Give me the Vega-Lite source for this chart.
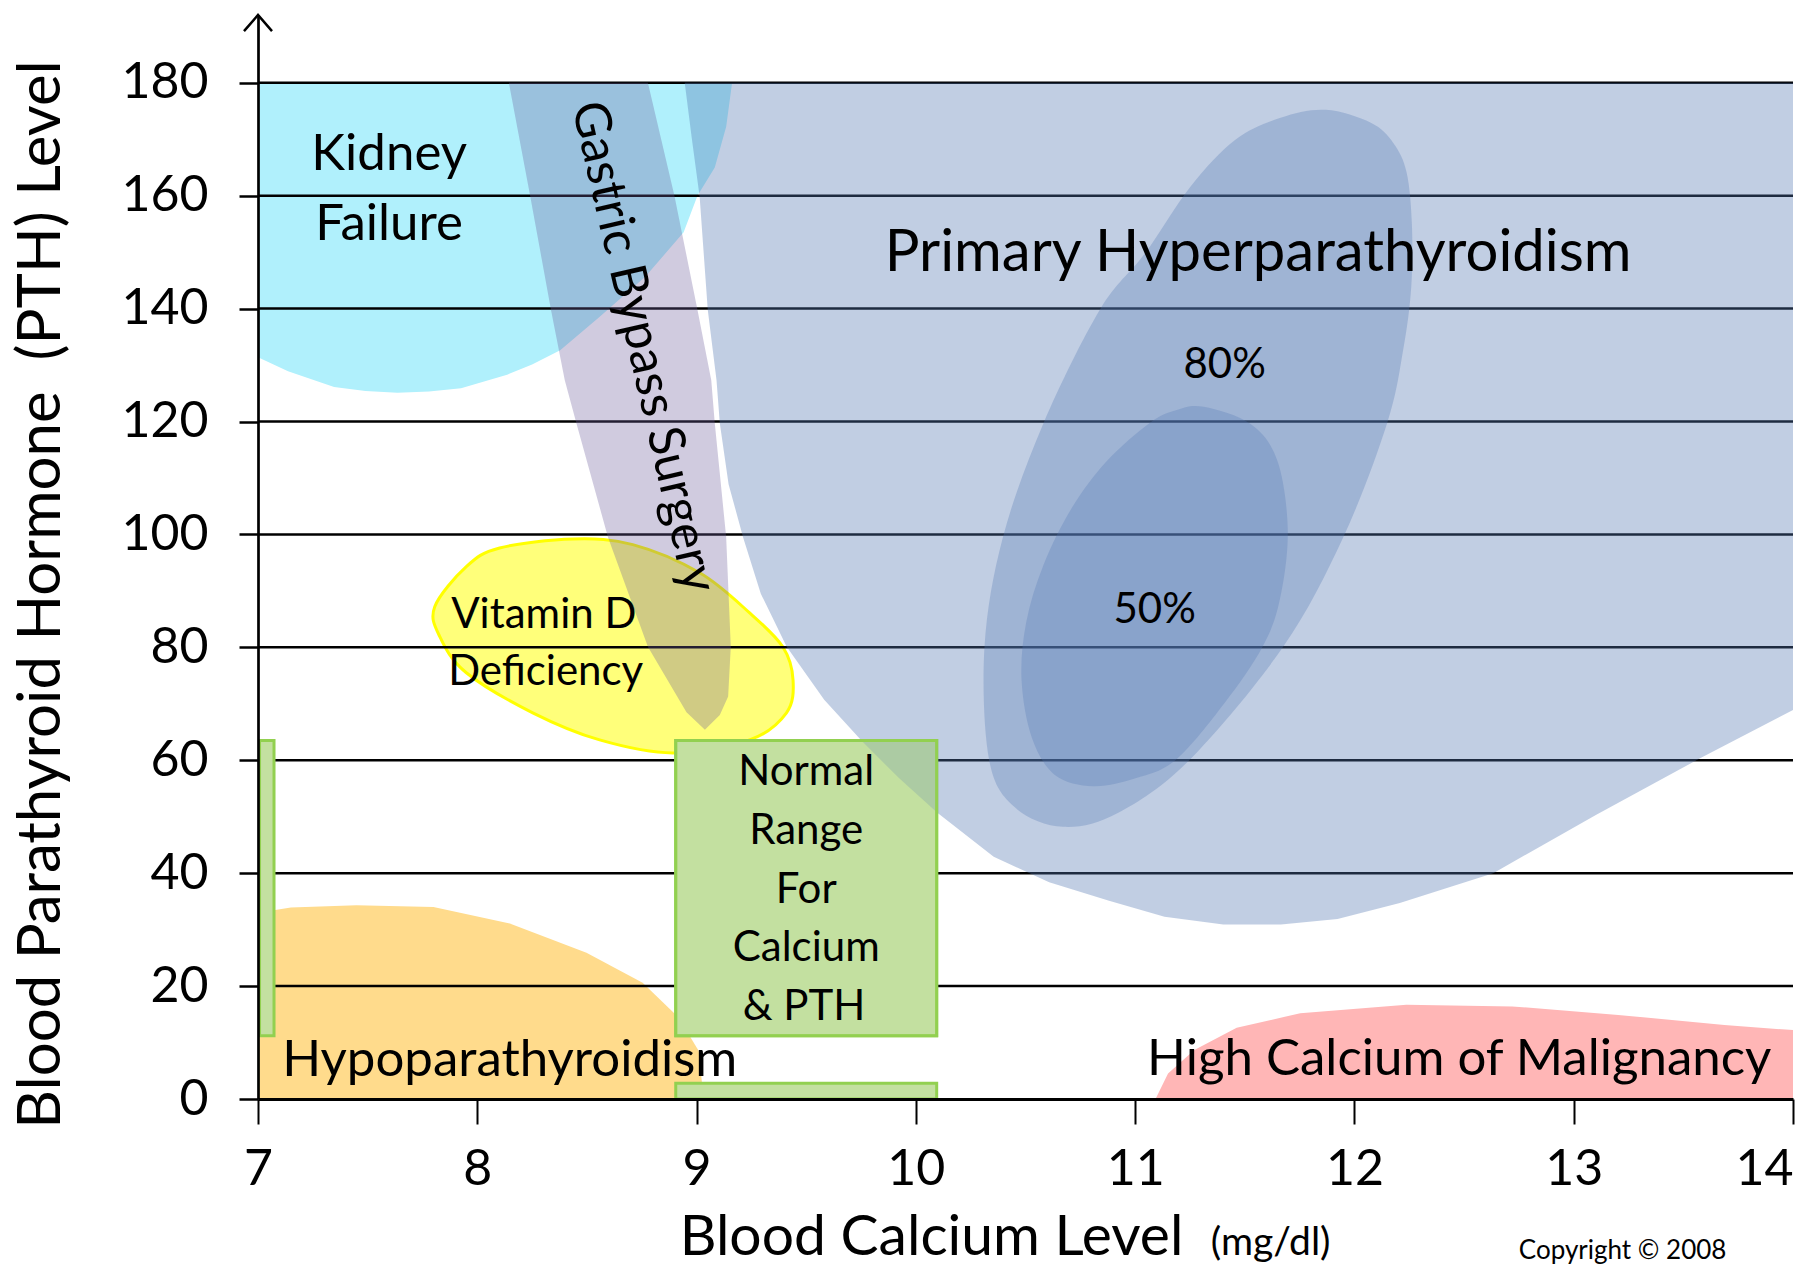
{
  "$schema": "https://vega.github.io/schema/vega-lite/v6.json",
  "width": 1535,
  "height": 1084,
  "autosize": {"type": "none"},
  "padding": {"left": 258, "top": 15, "right": 15, "bottom": 168},
  "background": "white",
  "config": {"view": {"stroke": null}, "font": "Lato"},
  "datasets": {
    "poly": [
      {"r": "kidney", "o": 1, "ca": 7.0, "pth": 180},
      {"r": "kidney", "o": 2, "ca": 9.162, "pth": 180},
      {"r": "kidney", "o": 3, "ca": 9.135, "pth": 172.2},
      {"r": "kidney", "o": 4, "ca": 9.083, "pth": 165.0},
      {"r": "kidney", "o": 5, "ca": 9.004, "pth": 160.0},
      {"r": "kidney", "o": 6, "ca": 8.941, "pth": 153.5},
      {"r": "kidney", "o": 7, "ca": 8.767, "pth": 145.7},
      {"r": "kidney", "o": 8, "ca": 8.557, "pth": 138.5},
      {"r": "kidney", "o": 9, "ca": 8.378, "pth": 132.6},
      {"r": "kidney", "o": 10, "ca": 8.25, "pth": 130.1},
      {"r": "kidney", "o": 11, "ca": 8.136, "pth": 128.3},
      {"r": "kidney", "o": 12, "ca": 7.926, "pth": 125.9},
      {"r": "kidney", "o": 13, "ca": 7.78, "pth": 125.3},
      {"r": "kidney", "o": 14, "ca": 7.636, "pth": 125.1},
      {"r": "kidney", "o": 15, "ca": 7.49, "pth": 125.4},
      {"r": "kidney", "o": 16, "ca": 7.347, "pth": 126.1},
      {"r": "kidney", "o": 17, "ca": 7.137, "pth": 128.9},
      {"r": "kidney", "o": 18, "ca": 7.0, "pth": 131.4},

      {"r": "hypo", "o": 1, "ca": 7.0, "pth": 0},
      {"r": "hypo", "o": 2, "ca": 7.0, "pth": 33.0},
      {"r": "hypo", "o": 3, "ca": 7.15, "pth": 33.9},
      {"r": "hypo", "o": 4, "ca": 7.449, "pth": 34.3},
      {"r": "hypo", "o": 5, "ca": 7.8, "pth": 34.0},
      {"r": "hypo", "o": 6, "ca": 8.148, "pth": 31.1},
      {"r": "hypo", "o": 7, "ca": 8.498, "pth": 25.9},
      {"r": "hypo", "o": 8, "ca": 8.754, "pth": 20.6},
      {"r": "hypo", "o": 9, "ca": 8.917, "pth": 14.5},
      {"r": "hypo", "o": 10, "ca": 9.01, "pth": 8.5},
      {"r": "hypo", "o": 11, "ca": 9.032, "pth": 0},

      {"r": "mal", "o": 1, "ca": 11.093, "pth": 0},
      {"r": "mal", "o": 2, "ca": 11.15, "pth": 4.5},
      {"r": "mal", "o": 3, "ca": 11.27, "pth": 8.7},
      {"r": "mal", "o": 4, "ca": 11.463, "pth": 12.6},
      {"r": "mal", "o": 5, "ca": 11.753, "pth": 15.2},
      {"r": "mal", "o": 6, "ca": 12.237, "pth": 16.7},
      {"r": "mal", "o": 7, "ca": 12.72, "pth": 16.4},
      {"r": "mal", "o": 8, "ca": 13.203, "pth": 14.9},
      {"r": "mal", "o": 9, "ca": 13.687, "pth": 13.1},
      {"r": "mal", "o": 10, "ca": 14.0, "pth": 12.2},
      {"r": "mal", "o": 11, "ca": 14.0, "pth": 0},

      {"r": "vitd", "o": 1, "ca": 7.806, "pth": 87.2},
      {"r": "vitd", "o": 2, "ca": 7.95, "pth": 94.3},
      {"r": "vitd", "o": 3, "ca": 8.102, "pth": 97.6},
      {"r": "vitd", "o": 4, "ca": 8.437, "pth": 99.2},
      {"r": "vitd", "o": 5, "ca": 8.709, "pth": 98.2},
      {"r": "vitd", "o": 6, "ca": 9.014, "pth": 93.2},
      {"r": "vitd", "o": 7, "ca": 9.242, "pth": 86.1},
      {"r": "vitd", "o": 8, "ca": 9.393, "pth": 80.1},
      {"r": "vitd", "o": 9, "ca": 9.44, "pth": 74.2},
      {"r": "vitd", "o": 10, "ca": 9.41, "pth": 68.4},
      {"r": "vitd", "o": 11, "ca": 9.242, "pth": 63.6},
      {"r": "vitd", "o": 12, "ca": 8.891, "pth": 61.3},
      {"r": "vitd", "o": 13, "ca": 8.558, "pth": 63.6},
      {"r": "vitd", "o": 14, "ca": 8.253, "pth": 68.4},
      {"r": "vitd", "o": 15, "ca": 7.95, "pth": 75.5},
      {"r": "vitd", "o": 16, "ca": 7.829, "pth": 81.9},

      {"r": "prim", "o": 1, "ca": 8.946, "pth": 180},
      {"r": "prim", "o": 2, "ca": 8.978, "pth": 170.2},
      {"r": "prim", "o": 3, "ca": 9.014, "pth": 159.8},
      {"r": "prim", "o": 4, "ca": 9.051, "pth": 139.8},
      {"r": "prim", "o": 5, "ca": 9.091, "pth": 127.3},
      {"r": "prim", "o": 6, "ca": 9.106, "pth": 119.7},
      {"r": "prim", "o": 7, "ca": 9.146, "pth": 108.9},
      {"r": "prim", "o": 8, "ca": 9.212, "pth": 99.5},
      {"r": "prim", "o": 9, "ca": 9.293, "pth": 89.5},
      {"r": "prim", "o": 10, "ca": 9.411, "pth": 80.1},
      {"r": "prim", "o": 11, "ca": 9.582, "pth": 70.7},
      {"r": "prim", "o": 12, "ca": 9.756, "pth": 63.3},
      {"r": "prim", "o": 13, "ca": 9.924, "pth": 56.8},
      {"r": "prim", "o": 14, "ca": 10.098, "pth": 50.7},
      {"r": "prim", "o": 15, "ca": 10.355, "pth": 42.9},
      {"r": "prim", "o": 16, "ca": 10.608, "pth": 38.4},
      {"r": "prim", "o": 17, "ca": 10.881, "pth": 35.1},
      {"r": "prim", "o": 18, "ca": 11.134, "pth": 32.3},
      {"r": "prim", "o": 19, "ca": 11.402, "pth": 30.9},
      {"r": "prim", "o": 20, "ca": 11.665, "pth": 30.9},
      {"r": "prim", "o": 21, "ca": 11.923, "pth": 31.9},
      {"r": "prim", "o": 22, "ca": 12.207, "pth": 34.7},
      {"r": "prim", "o": 23, "ca": 12.633, "pth": 40.0},
      {"r": "prim", "o": 24, "ca": 13.101, "pth": 50.3},
      {"r": "prim", "o": 25, "ca": 13.574, "pth": 60.3},
      {"r": "prim", "o": 26, "ca": 14.0, "pth": 68.9},
      {"r": "prim", "o": 27, "ca": 14.0, "pth": 180},

      {"r": "p80", "o": 1, "ca": 11.869, "pth": 175.2},
      {"r": "p80", "o": 2, "ca": 12.075, "pth": 172.9},
      {"r": "p80", "o": 3, "ca": 12.178, "pth": 169.3},
      {"r": "p80", "o": 4, "ca": 12.238, "pth": 164.1},
      {"r": "p80", "o": 5, "ca": 12.262, "pth": 155.0},
      {"r": "p80", "o": 6, "ca": 12.259, "pth": 143.8},
      {"r": "p80", "o": 7, "ca": 12.222, "pth": 132.6},
      {"r": "p80", "o": 8, "ca": 12.149, "pth": 119.7},
      {"r": "p80", "o": 9, "ca": 11.949, "pth": 99.5},
      {"r": "p80", "o": 10, "ca": 11.675, "pth": 80.1},
      {"r": "p80", "o": 11, "ca": 11.249, "pth": 60.1},
      {"r": "p80", "o": 12, "ca": 10.923, "pth": 50.7},
      {"r": "p80", "o": 13, "ca": 10.671, "pth": 48.2},
      {"r": "p80", "o": 14, "ca": 10.45, "pth": 51.7},
      {"r": "p80", "o": 15, "ca": 10.334, "pth": 60.1},
      {"r": "p80", "o": 16, "ca": 10.313, "pth": 80.1},
      {"r": "p80", "o": 17, "ca": 10.397, "pth": 99.5},
      {"r": "p80", "o": 18, "ca": 10.582, "pth": 119.7},
      {"r": "p80", "o": 19, "ca": 10.839, "pth": 139.8},
      {"r": "p80", "o": 20, "ca": 11.045, "pth": 149.8},
      {"r": "p80", "o": 21, "ca": 11.252, "pth": 161.6},
      {"r": "p80", "o": 22, "ca": 11.457, "pth": 169.9},
      {"r": "p80", "o": 23, "ca": 11.663, "pth": 173.8},

      {"r": "p50", "o": 1, "ca": 11.313, "pth": 122.6},
      {"r": "p50", "o": 2, "ca": 11.528, "pth": 119.5},
      {"r": "p50", "o": 3, "ca": 11.649, "pth": 113.0},
      {"r": "p50", "o": 4, "ca": 11.696, "pth": 100.7},
      {"r": "p50", "o": 5, "ca": 11.66, "pth": 88.5},
      {"r": "p50", "o": 6, "ca": 11.581, "pth": 80.1},
      {"r": "p50", "o": 7, "ca": 11.407, "pth": 70.1},
      {"r": "p50", "o": 8, "ca": 11.186, "pth": 60.1},
      {"r": "p50", "o": 9, "ca": 11.002, "pth": 56.8},
      {"r": "p50", "o": 10, "ca": 10.808, "pth": 55.4},
      {"r": "p50", "o": 11, "ca": 10.634, "pth": 57.4},
      {"r": "p50", "o": 12, "ca": 10.529, "pth": 64.0},
      {"r": "p50", "o": 13, "ca": 10.482, "pth": 74.2},
      {"r": "p50", "o": 14, "ca": 10.503, "pth": 84.4},
      {"r": "p50", "o": 15, "ca": 10.582, "pth": 94.6},
      {"r": "p50", "o": 16, "ca": 10.713, "pth": 104.8},
      {"r": "p50", "o": 17, "ca": 10.871, "pth": 113.0},
      {"r": "p50", "o": 18, "ca": 11.065, "pth": 119.7},
      {"r": "p50", "o": 19, "ca": 11.186, "pth": 122.0},

      {"r": "gastric", "o": 1, "ca": 8.144, "pth": 180},
      {"r": "gastric", "o": 2, "ca": 8.241, "pth": 160.0},
      {"r": "gastric", "o": 3, "ca": 8.336, "pth": 139.8},
      {"r": "gastric", "o": 4, "ca": 8.399, "pth": 127.3},
      {"r": "gastric", "o": 5, "ca": 8.452, "pth": 119.7},
      {"r": "gastric", "o": 6, "ca": 8.596, "pth": 99.5},
      {"r": "gastric", "o": 7, "ca": 8.778, "pth": 80.1},
      {"r": "gastric", "o": 8, "ca": 8.954, "pth": 68.5},
      {"r": "gastric", "o": 9, "ca": 9.038, "pth": 65.4},
      {"r": "gastric", "o": 10, "ca": 9.106, "pth": 68.0},
      {"r": "gastric", "o": 11, "ca": 9.144, "pth": 71.3},
      {"r": "gastric", "o": 12, "ca": 9.156, "pth": 80.1},
      {"r": "gastric", "o": 13, "ca": 9.135, "pth": 99.5},
      {"r": "gastric", "o": 14, "ca": 9.083, "pth": 119.7},
      {"r": "gastric", "o": 15, "ca": 9.067, "pth": 127.3},
      {"r": "gastric", "o": 16, "ca": 9.004, "pth": 139.8},
      {"r": "gastric", "o": 17, "ca": 8.899, "pth": 160.0},
      {"r": "gastric", "o": 18, "ca": 8.778, "pth": 180}
    ],
    "grid": [
      {"ca": 7, "ca2": 14, "pth": 20},
      {"ca": 7, "ca2": 14, "pth": 40},
      {"ca": 7, "ca2": 14, "pth": 60},
      {"ca": 7, "ca2": 14, "pth": 80},
      {"ca": 7, "ca2": 14, "pth": 100},
      {"ca": 7, "ca2": 14, "pth": 120},
      {"ca": 7, "ca2": 14, "pth": 140},
      {"ca": 7, "ca2": 14, "pth": 160},
      {"ca": 7, "ca2": 14, "pth": 180}
    ],
    "rects": [
      {"name": "normal", "ca": 8.905, "ca2": 10.095, "pth": 11.2, "pth2": 63.5},
      {"name": "bar", "ca": 7.007, "ca2": 7.073, "pth": 11.2, "pth2": 63.5},
      {"name": "base", "ca": 8.905, "ca2": 10.095, "pth": 0, "pth2": 2.8}
    ],
    "labels": [
      {"kind": "big", "label": "Primary Hyperparathyroidism", "ca": 11.561, "pth": 146.6},
      {"kind": "main", "label": "Kidney", "ca": 7.598, "pth": 164.6},
      {"kind": "main", "label": "Failure", "ca": 7.598, "pth": 152.2},
      {"kind": "main", "label": "Hypoparathyroidism", "ca": 8.148, "pth": 4.0},
      {"kind": "main", "label": "High Calcium of Malignancy", "ca": 12.478, "pth": 4.25},
      {"kind": "mid", "label": "80%", "ca": 11.408, "pth": 127.7},
      {"kind": "mid", "label": "50%", "ca": 11.089, "pth": 84.3},
      {"kind": "mid", "label": "Vitamin D", "ca": 8.303, "pth": 83.5},
      {"kind": "mid", "label": "Deficiency", "ca": 8.312, "pth": 73.4},
      {"kind": "mid", "label": "Normal", "ca": 9.5, "pth": 55.6},
      {"kind": "mid", "label": "Range", "ca": 9.5, "pth": 45.2},
      {"kind": "mid", "label": "For", "ca": 9.5, "pth": 34.8},
      {"kind": "mid", "label": "Calcium", "ca": 9.5, "pth": 24.4},
      {"kind": "mid", "label": "& PTH", "ca": 9.49, "pth": 14.0},
      {"kind": "rot", "label": "Gastric Bypass Surgery", "ca": 8.755, "pth": 133.2},
      {"kind": "unit", "label": "(mg/dl)", "ca": 11.618, "pth": -27.6},
      {"kind": "copy", "label": "Copyright © 2008", "ca": 13.223, "pth": -28.3}
    ],
    "arrow": [{"ca": 7, "pth": 192}]
  },
  "encoding": {
    "x": {
      "field": "ca",
      "type": "quantitative",
      "scale": {"domain": [7, 14], "nice": false, "zero": false},
      "axis": {
        "values": [7, 8, 9, 10, 11, 12, 13, 14],
        "title": "Blood Calcium Level",
        "grid": false,
        "zindex": 1,
        "domainColor": "black",
        "domainWidth": 3,
        "tickColor": "black",
        "tickWidth": 2,
        "tickSize": 25,
        "labelFont": "Lato",
        "labelFontSize": 50,
        "labelColor": "black",
        "labelPadding": 20,
        "labelDx": -6,
        "labelAlign": {"condition": {"test": "datum.value === 14", "value": "right"}, "value": "center"},
        "labelFlush": false,
        "labelOverlap": false,
        "titleFont": "Lato",
        "titleFontSize": 57,
        "titleFontWeight": "normal",
        "titleColor": "black",
        "titleX": 673,
        "titleY": 155,
        "titleAlign": "center",
        "titleBaseline": "alphabetic"
      }
    },
    "y": {
      "field": "pth",
      "type": "quantitative",
      "scale": {"domain": [0, 192], "nice": false},
      "axis": {
        "values": [0, 20, 40, 60, 80, 100, 120, 140, 160, 180],
        "title": "Blood Parathyroid Hormone \u00a0(PTH) Level",
        "grid": false,
        "zindex": 1,
        "domainColor": "black",
        "domainWidth": 2.7,
        "tickColor": "black",
        "tickWidth": 2.5,
        "tickSize": 19,
        "labelFont": "Lato",
        "labelFontSize": 50,
        "labelColor": "black",
        "labelPadding": 31,
        "labelFlush": false,
        "labelOverlap": false,
        "titleFont": "Lato",
        "titleFontSize": 60,
        "titleFontWeight": "normal",
        "titleColor": "black",
        "titleAngle": 270,
        "titleX": -199,
        "titleY": 579,
        "titleAlign": "center",
        "titleBaseline": "alphabetic"
      }
    }
  },
  "layer": [
    {
      "data": {"name": "poly"},
      "transform": [{"filter": "datum.r === 'kidney'"}],
      "mark": {"type": "line", "interpolate": "linear-closed", "fill": "#B0F0FC", "strokeWidth": 0},
      "encoding": {"order": {"field": "o", "type": "quantitative"}}
    },
    {
      "data": {"name": "poly"},
      "transform": [{"filter": "datum.r === 'hypo'"}],
      "mark": {"type": "line", "interpolate": "linear-closed", "fill": "#FFDB8C", "strokeWidth": 0},
      "encoding": {"order": {"field": "o", "type": "quantitative"}}
    },
    {
      "data": {"name": "poly"},
      "transform": [{"filter": "datum.r === 'mal'"}],
      "mark": {"type": "line", "interpolate": "linear-closed", "fill": "#FFB6B6", "strokeWidth": 0},
      "encoding": {"order": {"field": "o", "type": "quantitative"}}
    },
    {
      "data": {"name": "poly"},
      "transform": [{"filter": "datum.r === 'vitd'"}],
      "mark": {"type": "line", "interpolate": "cardinal-closed", "fill": "#FFFF7A", "stroke": "#FFFF00", "strokeWidth": 3},
      "encoding": {"order": {"field": "o", "type": "quantitative"}}
    },
    {
      "data": {"name": "grid"},
      "mark": {"type": "rule", "color": "black", "strokeWidth": 2.5},
      "encoding": {"x2": {"field": "ca2"}}
    },
    {
      "data": {"name": "rects"},
      "mark": {"type": "rect", "fill": "#C3E0A0", "stroke": "#92D050", "strokeWidth": 3},
      "encoding": {"x2": {"field": "ca2"}, "y2": {"field": "pth2"}}
    },
    {
      "data": {"name": "poly"},
      "transform": [{"filter": "datum.r === 'prim'"}],
      "mark": {"type": "line", "interpolate": "linear-closed", "fill": "#5378B2", "fillOpacity": 0.36, "strokeWidth": 0},
      "encoding": {"order": {"field": "o", "type": "quantitative"}}
    },
    {
      "data": {"name": "poly"},
      "transform": [{"filter": "datum.r === 'p80'"}],
      "mark": {"type": "line", "interpolate": "cardinal-closed", "fill": "#5378B2", "fillOpacity": 0.3, "strokeWidth": 0},
      "encoding": {"order": {"field": "o", "type": "quantitative"}}
    },
    {
      "data": {"name": "poly"},
      "transform": [{"filter": "datum.r === 'p50'"}],
      "mark": {"type": "line", "interpolate": "cardinal-closed", "fill": "#5378B2", "fillOpacity": 0.28, "strokeWidth": 0},
      "encoding": {"order": {"field": "o", "type": "quantitative"}}
    },
    {
      "data": {"name": "poly"},
      "transform": [{"filter": "datum.r === 'gastric'"}],
      "mark": {"type": "line", "interpolate": "linear-closed", "fill": "#6D5E9C", "fillOpacity": 0.32, "strokeWidth": 0},
      "encoding": {"order": {"field": "o", "type": "quantitative"}}
    },
    {
      "data": {"name": "rects"},
      "transform": [{"filter": "datum.name === 'normal'"}],
      "mark": {"type": "rect", "fill": "#C3E0A0", "fillOpacity": 0.45, "stroke": "#92D050", "strokeWidth": 3},
      "encoding": {"x2": {"field": "ca2"}, "y2": {"field": "pth2"}}
    },
    {
      "data": {"name": "labels"},
      "transform": [{"filter": "datum.kind === 'big'"}],
      "mark": {"type": "text", "font": "Lato", "fontSize": 58, "color": "black", "align": "center", "baseline": "alphabetic"},
      "encoding": {"text": {"field": "label"}}
    },
    {
      "data": {"name": "labels"},
      "transform": [{"filter": "datum.kind === 'main'"}],
      "mark": {"type": "text", "font": "Lato", "fontSize": 51, "color": "black", "align": "center", "baseline": "alphabetic"},
      "encoding": {"text": {"field": "label"}}
    },
    {
      "data": {"name": "labels"},
      "transform": [{"filter": "datum.kind === 'mid'"}],
      "mark": {"type": "text", "font": "Lato", "fontSize": 42, "color": "black", "align": "center", "baseline": "alphabetic"},
      "encoding": {"text": {"field": "label"}}
    },
    {
      "data": {"name": "labels"},
      "transform": [{"filter": "datum.kind === 'rot'"}],
      "mark": {"type": "text", "font": "Lato", "fontSize": 50, "color": "black", "align": "center", "baseline": "middle", "angle": 77},
      "encoding": {"text": {"field": "label"}}
    },
    {
      "data": {"name": "labels"},
      "transform": [{"filter": "datum.kind === 'unit'"}],
      "mark": {"type": "text", "font": "Lato", "fontSize": 39, "color": "black", "align": "center", "baseline": "alphabetic"},
      "encoding": {"text": {"field": "label"}}
    },
    {
      "data": {"name": "labels"},
      "transform": [{"filter": "datum.kind === 'copy'"}],
      "mark": {"type": "text", "font": "Lato", "fontSize": 26, "color": "black", "align": "center", "baseline": "alphabetic"},
      "encoding": {"text": {"field": "label"}}
    },
    {
      "data": {"name": "arrow"},
      "mark": {"type": "point", "shape": "M-1,1.15L0,0L1,1.15", "size": 784, "filled": false, "stroke": "black", "strokeWidth": 2.5, "opacity": 1}
    }
  ]
}
